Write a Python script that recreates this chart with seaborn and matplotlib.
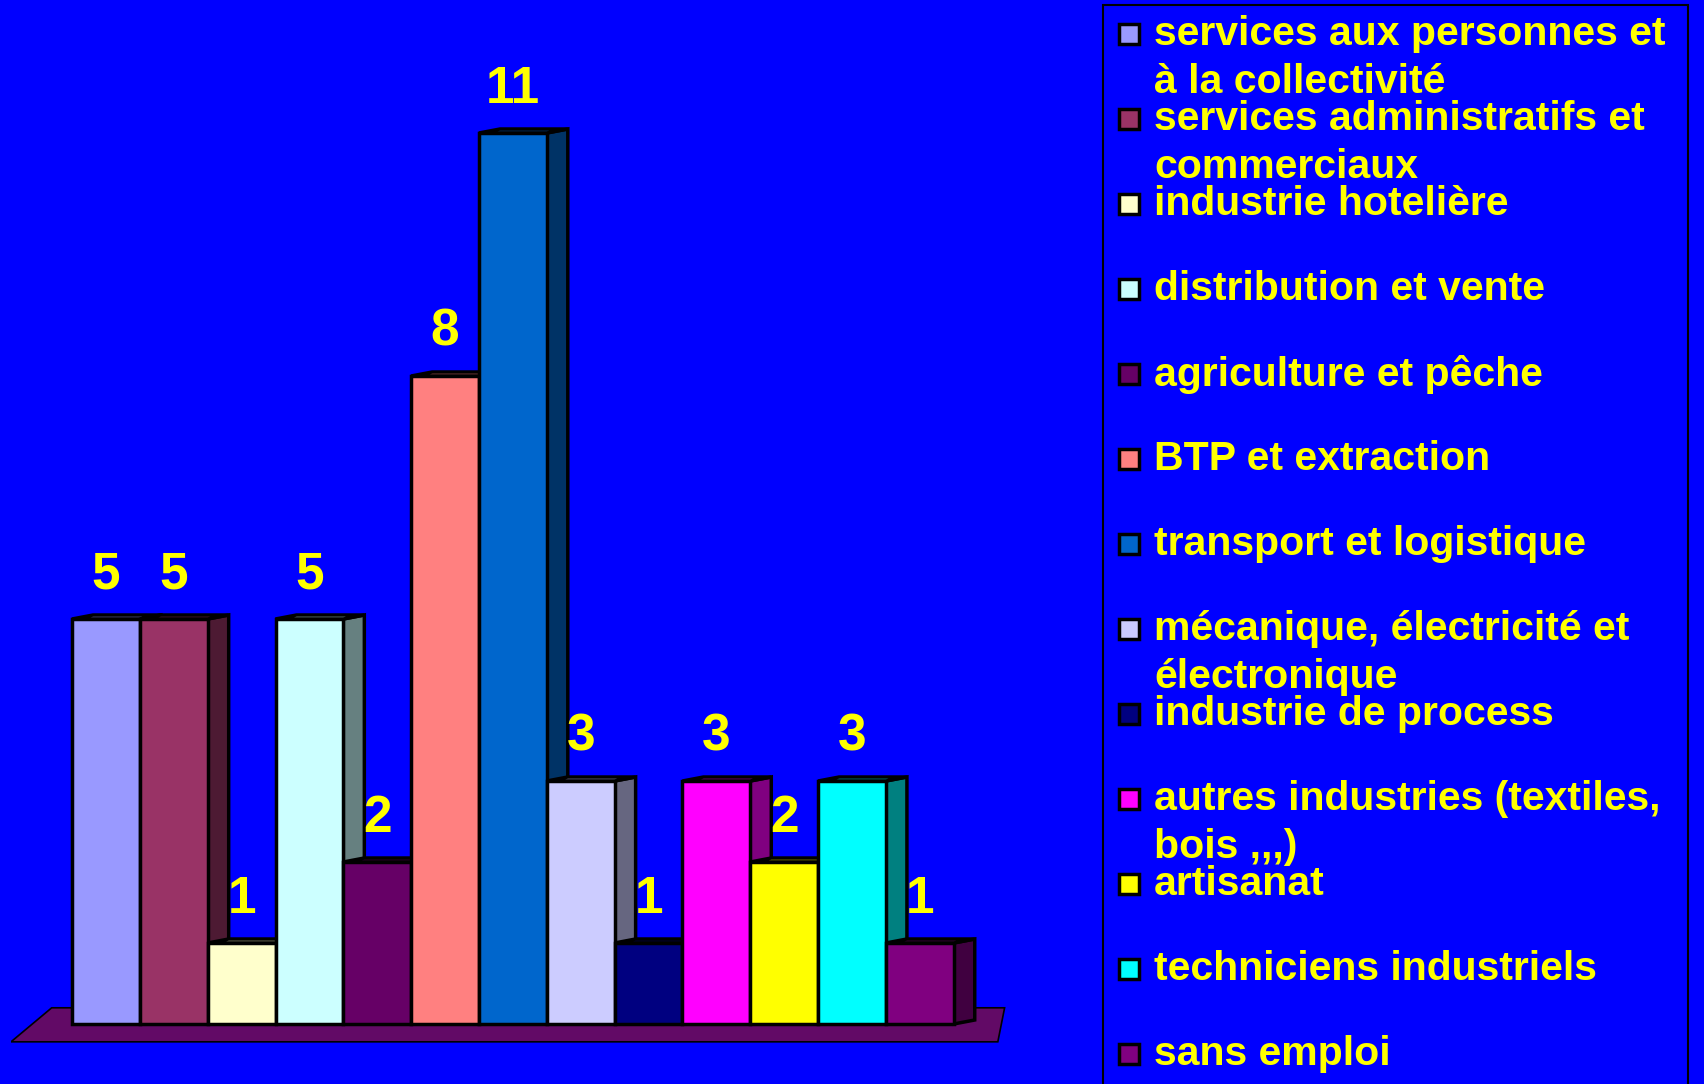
import matplotlib
matplotlib.use("Agg")
import matplotlib.pyplot as plt
import matplotlib.colors as mcolors
from matplotlib.patches import Polygon, Rectangle
import numpy as np
import seaborn as sns

categories = [
    "services aux personnes et\nà la collectivité",
    "services administratifs et\ncommerciaux",
    "industrie hotelière",
    "distribution et vente",
    "agriculture et pêche",
    "BTP et extraction",
    "transport et logistique",
    "mécanique, électricité et\nélectronique",
    "industrie de process",
    "autres industries (textiles,\nbois ,,,)",
    "artisanat",
    "techniciens industriels",
    "sans emploi",
]
values = [5, 5, 1, 5, 2, 8, 11, 3, 1, 3, 2, 3, 1]
colors = [
    "#9999FF", "#993366", "#FFFFCC", "#CCFFFF", "#660066", "#FF8080", "#0066CC",
    "#CCCCFF", "#000080", "#FF00FF", "#FFFF00", "#00FFFF", "#800080",
]

BG = "#0000FF"
TXT = "#FFFF00"

sns.set_style("white")
plt.rcParams["font.family"] = ["Liberation Sans", "DejaVu Sans"]
plt.rcParams["font.weight"] = "bold"

W, H = 1704, 1084
fig = plt.figure(figsize=(W / 100, H / 100), dpi=100, facecolor=BG)

# plot area (pixels -> figure fraction)
base_px, unit_px = 60, 81.0
y_lo = -0.35
ax_left, ax_w = 11, 997
ax_bot = base_px + y_lo * unit_px
ax = fig.add_axes([ax_left / W, ax_bot / H, ax_w / W, (H - ax_bot) / H])
ax.set_facecolor(BG)

labels_short = [c.replace("\n", " ") for c in categories]
sns.barplot(x=labels_short, y=values, hue=labels_short, palette=colors, saturation=1,
            width=1.0, edgecolor="black", linewidth=2.5, legend=False, ax=ax, zorder=2)
bars = sorted(ax.patches, key=lambda p: p.get_x())

ax.set_xlim(-1.4, 13.3)
ax.set_ylim(y_lo, (H - ax_bot) / unit_px + y_lo)
ax.axis("off")

# depth of the pseudo 3d faces, in data units
inv = ax.transData.inverted()
p0 = ax.transData.transform((0, 0))
dx, dy = inv.transform(p0 + np.array([21, 4])) - inv.transform(p0)

# floor
x_a, x_b = ax.get_xlim()
ax.add_patch(Polygon([(x_a, -0.22), (x_b - 0.15, -0.22), (x_b - 0.05, 0.2), (x_a + 0.6, 0.2)],
                     closed=True, facecolor="#620A66", edgecolor="black",
                     linewidth=1.2, zorder=0.5))

for b, col in zip(bars, colors):
    x0, x1 = b.get_x(), b.get_x() + b.get_width()
    y0, y1 = b.get_y(), b.get_y() + b.get_height()
    rgb = np.array(mcolors.to_rgb(col))
    side = Polygon([(x1, y0), (x1 + dx, y0 + dy), (x1 + dx, y1 + dy), (x1, y1)],
                   facecolor=rgb * 0.5, edgecolor="black", linewidth=2.5, zorder=1)
    top = Polygon([(x0, y1), (x0 + dx, y1 + dy), (x1 + dx, y1 + dy), (x1, y1)],
                  facecolor=rgb * 0.8, edgecolor="black", linewidth=2.5, zorder=1)
    ax.add_patch(side)
    ax.add_patch(top)
    ax.annotate(str(int(round(y1))), (x0 + b.get_width() / 2, y1),
                xytext=(0, 14), textcoords="offset points", ha="center", va="bottom",
                color=TXT, fontsize=37, fontweight="bold")

# legend box
fig.add_artist(Rectangle((1103 / W, -0.05), (1688 - 1103) / W, 1.05 - 5 / H,
                         transform=fig.transFigure, facecolor="none",
                         edgecolor="black", linewidth=1.5))
for i, (lab, col) in enumerate(zip(categories, colors)):
    yc = 34 + 85.0 * i
    fig.add_artist(Rectangle((1119 / W, 1 - (yc + 10) / H), 20 / W, 20 / H,
                             transform=fig.transFigure, facecolor=col,
                             edgecolor="black", linewidth=2.5))
    for j, line in enumerate(lab.split("\n")):
        fig.text(1154 / W, 1 - (yc + 48 * j) / H, line, color=TXT, fontsize=29.5,
                 fontweight="bold", ha="left", va="center")

fig.savefig("out.png", dpi=100, facecolor=BG)
